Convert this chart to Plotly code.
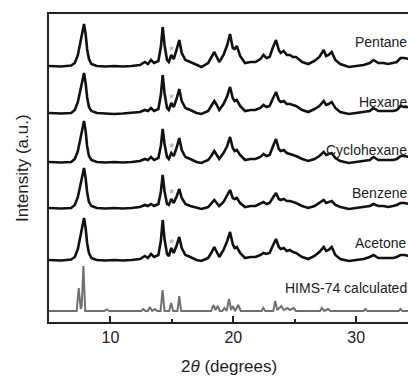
import plotly.graph_objects as go

# 2-theta positions (degrees) shared by the measured patterns
two_theta = [
    5.0, 6.0, 6.8, 7.1, 7.35, 7.55, 7.7, 7.85, 7.98, 8.1, 8.25, 8.45, 8.9, 9.6, 10.3,
    11.0, 11.7, 12.4, 12.8, 13.05, 13.3, 13.55, 13.9, 14.1, 14.25, 14.4, 14.6, 14.75,
    14.95, 15.15, 15.4, 15.6, 15.8, 16.1, 16.5, 17.0, 17.4, 17.95, 18.2, 18.45, 18.65,
    18.85, 19.2, 19.5, 19.73, 19.95, 20.1, 20.28, 20.55, 20.95, 21.4, 21.8, 22.2, 22.45,
    22.7, 22.95, 23.2, 23.47, 23.7, 23.85, 24.1, 24.35, 24.6, 24.85, 25.1, 25.6, 26.1,
    26.6, 27.0, 27.35, 27.55, 27.75, 28.0, 28.3, 28.7, 29.4, 30.0, 30.6, 31.1, 31.4,
    31.8, 32.2, 32.6, 33.0, 33.3, 33.6, 33.9, 34.3,
]

pentane = [
    1, 0.5, 1.5, 4, 12, 25, 36, 43, 33, 18, 8, 3, 1, 0.5, 1,
    0.5, 1, 2, 5, 3, 7, 4, 6, 20, 40, 22, 7, 5,
    12, 8, 18, 27, 14, 7, 5, 2, 0, 4, 9, 15, 10,
    5, 12, 22, 33, 19, 18, 21, 11, 4, 5, 5, 8, 12,
    9, 10, 19, 27, 17, 14, 16, 12, 12, 10, 10, 5, 3,
    6, 10, 17, 11, 12, 15, 7, 3, 0, 1, 2, 4, 7,
    4, 4, 3, 4, 5, 9, 9, 8,
]

hexane = [
    1, 0.5, 1, 4, 12, 24, 35, 41, 31, 17, 7, 3, 1, 0.5, 0,
    0.5, 1, 2, 4, 3, 6, 3, 5, 19, 39, 21, 6, 4,
    11, 7, 16, 25, 13, 6, 4, 1, 0, 3, 8, 13, 9,
    4, 10, 18, 27, 16, 13, 14, 8, 3, 4, 4, 6, 9,
    7, 8, 15, 22, 14, 12, 13, 10, 10, 9, 8, 4, 2,
    5, 8, 13, 9, 10, 12, 6, 2, 0, 1, 2, 3, 6,
    3, 3, 3, 3, 4, 8, 7, 7,
]

cyclohexane = [
    1, 0.5, 1, 4, 12, 25, 36, 42, 32, 17, 7, 3, 1, 0.5, 1,
    0.5, 1, 2, 4, 3, 6, 3, 5, 17, 34, 19, 6, 4,
    10, 7, 16, 25, 13, 6, 4, 1, 0, 3, 7, 12, 8,
    4, 10, 17, 26, 15, 12, 13, 8, 3, 4, 4, 6, 9,
    7, 8, 16, 24, 14, 12, 13, 10, 9, 8, 7, 4, 2,
    4, 7, 11, 8, 9, 10, 5, 2, 0, 1, 2, 3, 6,
    3, 3, 3, 3, 4, 7, 7, 6,
]

benzene = [
    1, 0.5, 1, 4, 12, 24, 35, 41, 31, 17, 7, 3, 1, 0.5, 1,
    0.5, 1, 2, 4, 3, 5, 3, 5, 17, 34, 18, 5, 4,
    10, 6, 13, 20, 11, 5, 3, 1, 0, 2, 6, 9, 6,
    3, 7, 13, 19, 11, 10, 11, 6, 2, 3, 3, 5, 7,
    5, 6, 11, 16, 10, 9, 10, 8, 8, 7, 6, 3, 1,
    3, 6, 9, 6, 7, 8, 4, 2, 0, 1, 2, 3, 5,
    3, 3, 2, 3, 4, 6, 6, 5,
]

acetone = [
    1, 0.5, 1.5, 4, 12, 25, 37, 43, 33, 18, 8, 3, 1, 0.5, 1,
    0.5, 1, 2, 5, 3, 7, 4, 6, 20, 41, 22, 7, 5,
    13, 8, 16, 24, 13, 6, 4, 1, 0, 3, 8, 14, 9,
    4, 11, 20, 29, 17, 13, 14, 8, 3, 4, 4, 6, 8,
    7, 8, 15, 22, 14, 12, 13, 10, 11, 9, 8, 4, 2,
    5, 9, 14, 10, 11, 14, 6, 2, 0, 1, 2, 4, 6,
    3, 3, 3, 3, 4, 6, 6, 5,
]

# Simulated pattern from the single-crystal structure
two_theta_calc = [
    5.0, 7.25, 7.42, 7.58, 7.66, 7.8, 7.95, 9.5, 9.7, 9.9, 12.5, 12.67, 12.85, 13.05,
    13.2, 13.4, 13.6, 13.8, 14.08, 14.24, 14.4, 14.78, 14.94, 15.1, 15.45, 15.6, 15.75,
    18.2, 18.38, 18.55, 18.73, 18.9, 19.1, 19.27, 19.45, 19.65, 19.82, 19.95, 20.15,
    20.4, 20.6, 22.3, 22.44, 22.6, 23.25, 23.4, 23.58, 23.9, 24.1, 24.4, 24.6, 24.9,
    25.1, 27.05, 27.2, 27.4, 27.7, 27.9, 30.6, 30.75, 30.9, 33.45, 33.6, 33.75, 34.3,
]
calculated = [
    0, 0, 23, 2, 5, 45, 0, 0, 1.5, 0, 0, 2, 0, 0,
    4, 0, 2, 0, 0, 21, 0, 0, 8, 0, 0, 15, 0,
    0, 6, 1, 5, 0, 0, 3, 0, 12, 1, 5, 0,
    6, 0, 0, 3, 0, 0, 10, 1, 5, 1, 3, 1, 3,
    0, 0, 3, 0, 2, 0, 0, 2, 0, 0, 2, 0, 0,
]

# Stacking: label, intensities, x values, vertical offset, label height, star height
series_names = ["Pentane", "Hexane", "Cyclohexane", "Benzene", "Acetone", "HIMS-74 calculated"]
series_values = [pentane, hexane, cyclohexane, benzene, acetone, calculated]
series_x = [two_theta] * 5 + [two_theta_calc]
offsets = [255, 208, 159, 113, 61, 11]
label_y = [280, 220, 172, 129, 79, 34]
star_y = [274, 226, 177, 131, 81]
star_x = 14.95

BLACK = "#111111"
GREY = "#707070"
FONT = "Arial, Liberation Sans, sans-serif"

fig = go.Figure()
for name, vals, xs, off in zip(series_names, series_values, series_x, offsets):
    calc = name.startswith("HIMS")
    fig.add_trace(go.Scatter(
        x=xs, y=[v + off for v in vals], mode="lines", name=name,
        line=dict(color=GREY if calc else BLACK, width=2.0 if calc else 2.6),
        showlegend=False, hoverinfo="skip",
    ))

annotations = []
for name, ly in zip(series_names, label_y):
    annotations.append(dict(
        x=1.002, xref="paper", y=ly, yref="y", text=name, showarrow=False,
        xanchor="right", yanchor="middle", font=dict(family=FONT, size=14, color="#222"),
    ))
for sy in star_y:
    annotations.append(dict(
        x=star_x, xref="x", y=sy, yref="y", text="*", showarrow=False,
        xanchor="center", yanchor="middle", yshift=-2,
        font=dict(family=FONT, size=13, color="#a0a0a0"),
    ))
annotations.append(dict(
    x=0.5, xref="paper", y=-0.143, yref="paper", text="2<i>θ</i> (degrees)",
    showarrow=False, xanchor="center", yanchor="middle",
    font=dict(family=FONT, size=17, color="#222"),
))
annotations.append(dict(
    x=-0.075, xref="paper", y=0.5, yref="paper", text="Intensity (a.u.)",
    showarrow=False, xanchor="center", yanchor="middle", textangle=-90,
    font=dict(family=FONT, size=17, color="#222"),
))

fig.update_layout(
    width=408, height=380, autosize=False,
    margin=dict(l=49, r=0, t=14, b=58),
    paper_bgcolor="white", plot_bgcolor="white",
    annotations=annotations,
    xaxis=dict(
        range=[5, 34.21], showgrid=False, zeroline=False,
        showline=True, linecolor="#222", linewidth=1.8, mirror=True,
        ticks="inside", ticklen=6, tickwidth=1.5, tickcolor="#222",
        tickvals=[10, 20, 30], ticktext=["10", "20", "30"],
        tickfont=dict(family=FONT, size=16, color="#222"),
        minor=dict(tickvals=[15, 25], ticks="inside", ticklen=3.5, tickwidth=1.5, tickcolor="#222"),
    ),
    yaxis=dict(
        range=[0, 308], showgrid=False, zeroline=False,
        showline=True, linecolor="#222", linewidth=1.8, mirror=False,
        showticklabels=False, ticks="",
    ),
)

fig.write_html("out.html")
